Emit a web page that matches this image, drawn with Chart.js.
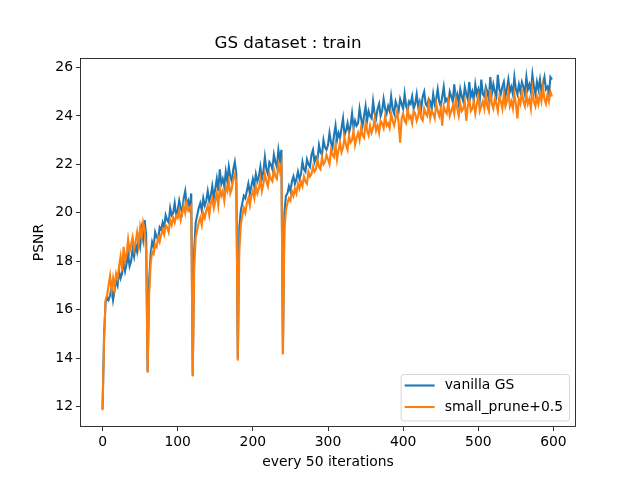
<!DOCTYPE html>
<html>
<head>
<meta charset="utf-8">
<title>GS dataset : train</title>
<script src="https://cdn.jsdelivr.net/npm/chart.js@4.4.1/dist/chart.umd.min.js"></script>
<style>
    html, body { margin: 0; padding: 0; background: #ffffff; }
    #psnrChart { display: block; }
</style>
</head>
<body>
<canvas id="psnrChart" width="640" height="480"></canvas>
<script>
// PSNR, one value every 2nd evaluation (x = 0, 2, 4 ... 598)
const SAMPLE_STEP = 2;

const vanillaGS = [
    11.9, 14.9, 16.3, 16.5, 16.4, 16.6, 16.9, 16.4, 16.8, 17.2,
    17.0, 17.6, 17.3, 17.5, 18.0, 17.6, 17.9, 18.3, 17.8, 18.0,
    18.5, 18.2, 18.7, 18.4, 18.9, 18.6, 19.3, 18.9, 19.7, 19.1,
    13.45, 17.2, 18.3, 18.8, 18.6, 19.2, 19.0, 18.9, 19.4, 19.3,
    19.6, 19.4, 19.9, 19.7, 19.6, 20.2, 19.9, 20.0, 20.4, 19.9,
    20.1, 20.5, 20.2, 20.0, 20.6, 20.9, 20.3, 20.5, 20.2, 20.8,
    13.3, 18.5, 19.6, 19.9, 20.2, 20.4, 20.1, 20.6, 20.3, 20.5,
    20.9, 20.5, 20.7, 21.1, 20.6, 21.0, 21.4, 20.9, 21.8, 21.2,
    21.4, 21.1, 21.7, 21.3, 21.9, 21.5, 21.3, 21.8, 22.1, 21.6,
    14.0, 19.4, 20.1, 20.4, 20.7, 20.6, 20.9, 21.2, 20.8, 21.1,
    21.4, 21.1, 21.6, 21.3, 21.5, 21.9, 21.4, 21.7, 22.3, 21.8,
    21.6, 22.1, 22.0, 21.8, 22.4, 22.1, 21.9, 22.6, 22.2, 22.6,
    14.2, 20.0, 20.7, 20.8, 21.1, 20.9, 21.3, 21.5, 21.2, 21.4,
    21.7, 21.4, 21.6, 22.1, 21.8, 21.7, 22.2, 22.0, 21.9, 22.4,
    22.6, 22.1, 22.3, 22.2, 22.8, 22.5, 22.4, 23.0, 22.7, 22.6,
    22.8, 23.3, 22.9, 22.7, 23.2, 23.6, 23.0, 23.3, 23.1, 23.5,
    23.9, 23.2, 23.4, 23.7, 23.3, 23.6, 24.1, 23.5, 23.8, 23.6,
    23.7, 24.3, 23.9, 23.6, 24.0, 24.4, 23.8, 24.2, 24.0, 23.9,
    24.6, 24.1, 23.9, 24.3, 24.5, 24.0, 24.2, 24.7, 24.3, 24.1,
    24.4, 24.2, 24.8, 24.3, 24.1, 24.6, 24.4, 24.2, 24.7, 24.5,
    24.3, 24.9, 24.4, 24.2, 24.6, 24.5, 24.8, 24.3, 24.5, 24.9,
    24.4, 24.6, 24.3, 24.8, 25.0, 24.5, 24.4, 24.7, 24.6, 24.3,
    24.9, 24.5, 24.7, 25.1, 24.6, 24.4, 24.8, 25.2, 24.6, 24.7,
    24.5, 25.0, 24.8, 24.6, 25.3, 24.7, 24.9, 24.5, 25.1, 24.8,
    24.6, 25.2, 24.9, 24.7, 25.4, 24.8, 25.0, 24.6, 25.3, 24.9,
    25.1, 24.7, 25.5, 24.9, 24.8, 25.2, 25.0, 24.7, 25.6, 24.9,
    25.3, 25.0, 24.8, 25.7, 25.1, 24.9, 25.2, 25.4, 24.8, 25.1,
    25.5, 25.0, 25.2, 24.9, 25.6, 25.1, 24.9, 25.3, 25.0, 25.4,
    25.2, 24.9, 25.6, 25.1, 25.3, 25.0, 25.7, 25.2, 24.9, 25.4,
    25.1, 25.5, 25.0, 25.3, 25.6, 25.1, 25.2, 24.9, 25.6, 25.5
];

const smallPrune = [
    11.85, 14.7, 16.4, 16.6, 17.0, 17.4, 16.8, 17.3, 16.9, 17.5,
    17.3, 17.8, 18.2, 17.6, 18.6, 18.0, 18.3, 18.9, 18.4, 18.7,
    19.0, 18.5, 18.8, 19.2, 18.7, 19.4, 19.0, 19.6, 19.3, 18.4,
    13.4, 16.6, 17.9, 18.4, 18.3, 18.7, 18.6, 19.0, 18.8, 19.1,
    19.3, 19.1, 19.5, 19.4, 19.2, 19.7, 19.5, 19.8, 19.6, 19.9,
    19.8, 20.1, 19.7, 20.0, 20.3, 20.0, 20.4, 20.1, 20.2, 20.3,
    13.25, 17.8, 19.0, 19.3, 19.6, 19.8, 19.5, 20.0, 19.8, 20.1,
    20.3, 19.9, 20.4, 20.6, 20.2, 20.5, 20.8, 20.3, 21.0, 20.7,
    20.9, 20.5, 21.1, 20.9, 21.3, 20.8, 21.0, 21.4, 21.6, 21.2,
    13.9, 18.5, 19.5, 19.9, 20.2, 20.0, 20.4, 20.6, 20.3, 20.7,
    20.9, 20.6, 21.1, 20.8, 21.0, 21.4, 20.9, 21.2, 21.6, 21.3,
    21.1, 21.6, 21.4, 21.3, 21.8, 21.5, 21.4, 22.0, 21.7, 22.0,
    14.15, 19.3, 20.1, 20.4, 20.6, 20.5, 20.9, 20.7, 21.0, 20.8,
    21.2, 21.0, 21.3, 21.1, 21.5, 21.3, 21.2, 21.7, 21.5, 21.6,
    21.9, 21.7, 21.8, 22.2, 21.9, 21.8, 22.3, 22.0, 22.1, 22.4,
    22.2, 22.0, 22.6, 22.4, 22.3, 22.8, 22.2, 22.6, 22.9, 22.5,
    22.7, 23.1, 22.8, 22.6, 23.2, 22.9, 23.0, 23.4, 22.8, 23.1,
    23.3, 23.0, 23.5, 23.2, 23.1, 23.7, 23.4, 23.2, 23.6, 23.3,
    23.5, 23.9, 23.4, 23.6, 23.3, 23.8, 23.7, 23.5, 24.0, 23.6,
    23.7, 23.5, 24.1, 23.8, 23.6, 23.9, 24.2, 23.7, 22.9, 23.9,
    24.1, 23.8, 23.7, 24.3, 23.9, 24.0, 23.7, 24.2, 24.1, 23.8,
    24.0, 24.4, 23.9, 23.8, 24.3, 24.1, 24.0, 24.5, 23.9, 24.2,
    24.1, 23.9, 24.5, 24.2, 24.0, 24.3, 23.6, 24.4, 24.2, 24.1,
    24.6, 24.0, 24.2, 24.4, 24.1, 24.7, 24.3, 24.0, 24.5, 24.2,
    24.3, 24.6, 23.8, 24.4, 24.7, 24.2, 24.3, 24.6, 24.1, 24.5,
    24.8, 24.2, 24.4, 24.6, 24.3, 24.9, 24.4, 24.2, 25.1, 24.5,
    24.3, 24.7, 24.5, 24.2, 24.8, 24.6, 24.3, 24.9, 24.4, 24.6,
    25.0, 24.4, 24.6, 24.3, 24.9, 24.5, 23.9, 24.7, 24.5, 25.0,
    24.6, 24.4, 24.9, 24.5, 24.7, 24.3, 25.1, 24.6, 24.4, 24.8,
    24.5, 24.9, 24.6, 25.2, 24.7, 24.5, 24.9, 24.6, 25.0, 24.8
];

const iterations = vanillaGS.map((_, i) => i * SAMPLE_STEP);

const seriesLabels = ["vanilla GS", "small_prune+0.5"];
const seriesColors = ["#1f77b4", "#ff7f0e"];
const xTicks = [0, 100, 200, 300, 400, 500, 600];
const yTicks = [12, 14, 16, 18, 20, 22, 24, 26];

const FONT = "'DejaVu Sans', sans-serif";

// matplotlib style box round the plot area
const framePlugin = {
    id: "frame",
    afterDatasetsDraw(chart) {
        const { ctx, chartArea: a } = chart;
        ctx.save();
        ctx.strokeStyle = "#000000";
        ctx.lineWidth = 0.8;
        ctx.strokeRect(Math.round(a.left) + 0.5, Math.round(a.top) + 0.5,
            Math.round(a.right - a.left) - 1, Math.round(a.bottom - a.top) - 1);
        ctx.restore();
    },
};

// legend inside the axes, lower right
const legendPlugin = {
    id: "innerLegend",
    afterDraw(chart) {
        const { ctx, chartArea: a } = chart;
        const sets = chart.data.datasets;
        ctx.save();
        ctx.font = "13.9px " + FONT;
        let textW = 0;
        sets.forEach((ds) => { textW = Math.max(textW, ctx.measureText(ds.label).width); });
        const padL = 4, handle = 30, gap = 10, padR = 6, rowH = 21.5, padV = 11;
        const w = padL + handle + gap + textW + padR;
        const h = padV * 2 + rowH * (sets.length - 1) + 3;
        const right = a.right - 7;
        const bottom = a.bottom - 6.5;
        const left = right - w;
        const top = bottom - h;

        ctx.beginPath();
        ctx.roundRect(left + 0.5, top + 0.5, w, h, 3);
        ctx.fillStyle = "rgba(255,255,255,0.8)";
        ctx.fill();
        ctx.strokeStyle = "rgba(204,204,204,0.8)";
        ctx.lineWidth = 1;
        ctx.stroke();

        sets.forEach((ds, i) => {
            const y = top + padV + i * rowH + 0.5;
            ctx.beginPath();
            ctx.moveTo(left + padL, y);
            ctx.lineTo(left + padL + handle, y);
            ctx.strokeStyle = ds.borderColor;
            ctx.lineWidth = 2.1;
            ctx.stroke();
            ctx.fillStyle = "#000000";
            ctx.textBaseline = "middle";
            ctx.textAlign = "left";
            ctx.fillText(ds.label, left + padL + handle + gap, y);
        });
        ctx.restore();
    },
};

const ctx = document.getElementById("psnrChart").getContext("2d");
new Chart(ctx, {
    type: "line",
    data: {
        labels: iterations,
        datasets: [
            {
                label: seriesLabels[0],
                data: vanillaGS,
                borderColor: seriesColors[0],
                order: 1,
            },
            {
                label: seriesLabels[1],
                data: smallPrune,
                borderColor: seriesColors[1],
                order: 0,
            },
        ],
    },
    options: {
        responsive: false,
        animation: false,
        devicePixelRatio: 1,
        layout: { padding: { left: 0, right: 64, top: 0, bottom: 0 } },
        elements: {
            line: { borderWidth: 2.1, tension: 0, fill: false, borderCapStyle: "butt" },
            point: { radius: 0, hoverRadius: 0 },
        },
        plugins: {
            legend: { display: false },
            tooltip: { enabled: false },
            title: {
                display: true,
                text: "GS dataset : train",
                color: "#000000",
                font: { family: FONT, size: 16.7, weight: "normal" },
                padding: { top: 34, bottom: 4 },
            },
        },
        scales: {
            x: {
                type: "linear",
                min: -30,
                max: 630,
                afterFit(scale) { scale.height = 53; },
                afterBuildTicks(scale) { scale.ticks = xTicks.map((v) => ({ value: v })); },
                grid: { drawOnChartArea: false, tickLength: 4, color: "#000000", lineWidth: 0.8 },
                border: { display: false },
                ticks: {
                    color: "#000000",
                    padding: 3,
                    maxRotation: 0,
                    font: { family: FONT, size: 13.9 },
                },
                title: {
                    display: true,
                    text: "every 50 iterations",
                    color: "#000000",
                    font: { family: FONT, size: 13.9 },
                    padding: { top: 0, bottom: 9.5 },
                },
            },
            y: {
                type: "linear",
                min: 11.16,
                max: 26.39,
                afterFit(scale) { scale.width = 80; },
                afterBuildTicks(scale) { scale.ticks = yTicks.map((v) => ({ value: v })); },
                grid: { drawOnChartArea: false, tickLength: 4, color: "#000000", lineWidth: 0.8 },
                border: { display: false },
                ticks: {
                    color: "#000000",
                    padding: 3,
                    font: { family: FONT, size: 13.9 },
                },
                title: {
                    display: true,
                    text: "PSNR",
                    color: "#000000",
                    font: { family: FONT, size: 13.9 },
                    padding: { top: 31, bottom: 0 },
                },
            },
        },
    },
    plugins: [framePlugin, legendPlugin],
});
</script>
</body>
</html>
